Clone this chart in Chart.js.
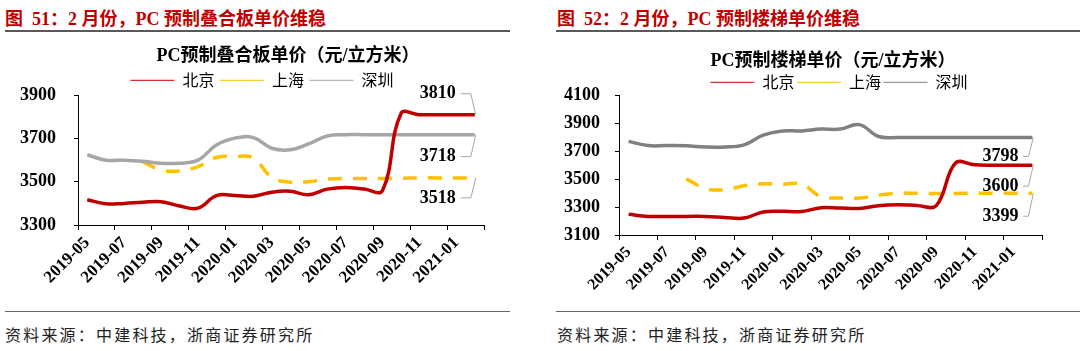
<!DOCTYPE html>
<html>
<head>
<meta charset="utf-8">
<script src="https://cdn.jsdelivr.net/npm/chart.js@4/dist/chart.umd.min.js"></script>
<style>
html, body { margin: 0; padding: 0; background: #fff; width: 1080px; height: 351px; overflow: hidden; }
.panel { position: absolute; top: 0; width: 540px; height: 351px; }
.head { position: absolute; top: 4px; line-height: 20px; font: bold 18px "Liberation Serif", "Noto Sans CJK SC", serif; color: #C00000; white-space: nowrap; }
.rule { position: absolute; top: 30px; height: 2px; background: #595959; }
.foot { position: absolute; top: 311px; height: 1px; background: #666; }
.src { position: absolute; top: 322px; line-height: 20px; font: 16px "Noto Sans CJK SC", sans-serif; color: #222; letter-spacing: 2.2px; white-space: nowrap; }
canvas { position: absolute; top: 36px; left: 0; }
</style>
</head>
<body>
<div class="panel" style="left:0">
  <div class="head" style="left:5px">图&ensp;51：2 月份，PC 预制叠合板单价维稳</div>
  <div class="rule" style="left:5px;width:505px"></div>
  <canvas id="slab" width="540" height="269"></canvas>
  <div class="foot" style="left:5px;width:505px"></div>
  <div class="src" style="left:5px">资料来源：中建科技，浙商证券研究所</div>
</div>
<div class="panel" style="left:540px">
  <div class="head" style="left:17px">图&ensp;52：2 月份，PC 预制楼梯单价维稳</div>
  <div class="rule" style="left:16px;width:524px"></div>
  <canvas id="stair" width="540" height="269"></canvas>
  <div class="foot" style="left:16px;width:524px"></div>
  <div class="src" style="left:17px">资料来源：中建科技，浙商证券研究所</div>
</div>
<script>
// monthly categories, 2019-05 .. 2021-02
const months = ['2019-05','2019-06','2019-07','2019-08','2019-09','2019-10','2019-11','2019-12',
  '2020-01','2020-02','2020-03','2020-04','2020-05','2020-06','2020-07','2020-08',
  '2020-09','2020-10','2020-11','2020-12','2021-01','2021-02'];
const tickLabels = ['2019-05','2019-07','2019-09','2019-11','2020-01','2020-03',
  '2020-05','2020-07','2020-09','2020-11','2021-01'];
const seriesNames = ['北京', '上海', '深圳'];

// PC预制叠合板单价
const slabBeijing = [3417,3398,3400,3405,3408,3388,3378,3436,3437,3433,3452,3456,3440,3466,3474,3466,3460,3815,3810,3810,3810,3810];
const slabShanghai = [null,null,null,3593,3555,3550,3570,3612,3617,3610,3520,3498,3500,3512,3515,3515,3515,3516,3518,3518,3518,3518];
const slabShenzhen = [3625,3600,3600,3595,3586,3586,3600,3670,3702,3704,3655,3648,3675,3712,3718,3718,3718,3718,3718,3718,3718,3718];

// PC预制楼梯单价
const stairBeijing = [3248,3233,3233,3233,3233,3226,3221,3265,3270,3268,3295,3293,3290,3310,3316,3312,3310,3615,3602,3600,3600,3600];
const stairShanghai = [null,null,null,3502,3432,3424,3452,3467,3464,3464,3375,3365,3365,3385,3400,3398,3397,3397,3399,3399,3399,3399];
const stairShenzhen = [3770,3740,3740,3738,3730,3730,3745,3815,3845,3845,3858,3858,3890,3805,3798,3798,3798,3798,3798,3798,3798,3798];

const serif = '"Times New Roman", "Liberation Serif", "Noto Sans CJK SC", serif';

// move title / legend to their own centre lines
const centerShift = {
  id: 'centerShift',
  afterLayout(chart, args, opts) {
    const move = (box, cx) => {
      if (!box || cx == null) return;
      const dx = cx - (box.left + box.right) / 2;
      box.left += dx;
      box.right += dx;
    };
    move(chart.titleBlock, opts.title);
    move(chart.legend, opts.legend);
  }
};

// last-value labels with leader lines
const endLabels = {
  id: 'endLabels',
  afterDatasetsDraw(chart, args, opts) {
    const ctx = chart.ctx;
    ctx.save();
    ctx.font = 'bold 18px ' + serif;
    ctx.textAlign = 'right';
    ctx.textBaseline = 'middle';
    opts.items.forEach(it => {
      const data = chart.data.datasets[it.ds].data;
      const last = data.length - 1;
      const pt = chart.getDatasetMeta(it.ds).data[last];
      const tx = pt.x + opts.dx;
      const ty = pt.y + it.dy;
      ctx.fillStyle = '#000';
      ctx.fillText(String(data[last]), tx, ty);
      ctx.strokeStyle = '#A6A6A6';
      ctx.lineWidth = 1;
      ctx.beginPath();
      ctx.moveTo(tx + 5, ty);
      ctx.lineTo(pt.x - 4, ty);
      ctx.lineTo(pt.x + 1, pt.y);
      ctx.stroke();
    });
    ctx.restore();
  }
};

function makeChart(id, o) {
  return new Chart(document.getElementById(id), {
    type: 'line',
    data: {
      labels: months,
      datasets: [
        { label: seriesNames[0], data: o.bj, borderColor: '#C00000', order: 0 },
        { label: seriesNames[1], data: o.sh, borderColor: '#FFC000', borderDash: [14, 11], order: 2 },
        { label: seriesNames[2], data: o.sz, borderColor: o.gray, order: 1 }
      ]
    },
    options: {
      responsive: false,
      animation: false,
      events: [],
      layout: { padding: { left: 0, right: o.padRight, top: 0, bottom: 0 } },
      elements: {
        point: { radius: 0, pointStyle: 'line' },
        line: { borderWidth: 3.5, tension: 0.4, fill: false, borderCapStyle: 'butt' }
      },
      scales: {
        x: {
          offset: true,
          afterFit: s => { s.height = o.xHeight; },
          grid: {
            offset: true,
            drawOnChartArea: false,
            tickLength: 5,
            tickColor: c => (c.index === undefined || c.index % 2 === 0) ? '#000' : 'rgba(0,0,0,0)'
          },
          border: { display: true, color: '#000', width: 1 },
          ticks: {
            autoSkip: false,
            maxRotation: 45,
            minRotation: 45,
            padding: 3,
            color: '#000',
            font: { family: serif, size: o.xFont, weight: 'bold' },
            callback: function (v) {
              const m = this.getLabelForValue(v);
              return tickLabels.includes(m) ? m : '';
            }
          }
        },
        y: {
          min: o.min,
          max: o.max,
          afterFit: s => { s.width = o.yWidth; },
          grid: { drawOnChartArea: false, tickLength: 4, tickColor: '#000' },
          border: { display: true, color: '#000', width: 1 },
          ticks: {
            stepSize: 200,
            padding: o.yPad,
            color: '#000',
            font: { family: serif, size: 18, weight: 'bold' },
            callback: v => String(v)
          }
        }
      },
      plugins: {
        tooltip: { enabled: false },
        title: {
          display: true,
          text: o.title,
          color: '#000',
          font: { family: serif, size: 18, weight: 'bold', lineHeight: 1.15 },
          padding: { top: o.titleTop, bottom: 0 }
        },
        legend: {
          display: true,
          maxHeight: o.legendHeight,
          labels: {
            usePointStyle: true,
            pointStyleWidth: 44,
            padding: o.legendPad,
            color: '#000',
            font: { family: '"Noto Sans CJK SC", sans-serif', size: 16 },
            sort: (a, b) => a.datasetIndex - b.datasetIndex
          }
        },
        centerShift: { title: o.titleX, legend: o.legendX },
        endLabels: { dx: o.labelDx, items: o.labels }
      }
    },
    plugins: [centerShift, endLabels]
  });
}

makeChart('slab', {
  title: 'PC预制叠合板单价（元/立方米）',
  bj: slabBeijing, sh: slabShanghai, sz: slabShenzhen,
  gray: '#A6A6A6', min: 3300, max: 3900,
  padRight: 56, yWidth: 78, yPad: 18, xHeight: 80, xFont: 17,
  titleTop: 10, legendPad: 5.6, legendHeight: 28.6,
  titleX: 288, legendX: 262,
  labelDx: -19,
  labels: [{ ds: 0, dy: -21 }, { ds: 2, dy: 22 }, { ds: 1, dy: 20 }]
});

makeChart('stair', {
  title: 'PC预制楼梯单价（元/立方米）',
  bj: stairBeijing, sh: stairShanghai, sz: stairShenzhen,
  gray: '#808080', min: 3100, max: 4100,
  padRight: 38, yWidth: 79, yPad: 15, xHeight: 70, xFont: 16,
  titleTop: 15, legendPad: 2.6, legendHeight: 23.6,
  titleX: 293, legendX: 299,
  labelDx: -14,
  labels: [{ ds: 2, dy: 19 }, { ds: 0, dy: 21 }, { ds: 1, dy: 23 }]
});
</script>
</body>
</html>
